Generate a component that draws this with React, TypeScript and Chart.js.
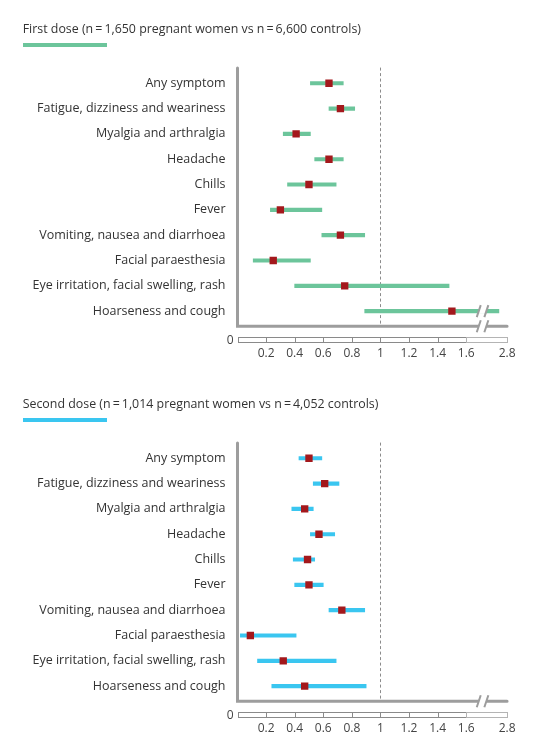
import React, { useEffect, useRef } from "react";
import { Chart, registerables } from "chart.js";

Chart.register(...registerables);

const CATEGORIES = [
  "Any symptom",
  "Fatigue, dizziness and weariness",
  "Myalgia and arthralgia",
  "Headache",
  "Chills",
  "Fever",
  "Vomiting, nausea and diarrhoea",
  "Facial paraesthesia",
  "Eye irritation, facial swelling, rash",
  "Hoarseness and cough",
];

const FIRST_ESTIMATE = [0.64, 0.72, 0.41, 0.64, 0.5, 0.3, 0.72, 0.25, 0.75, 1.5];
const FIRST_LOWER = [0.51, 0.64, 0.32, 0.54, 0.35, 0.23, 0.59, 0.11, 0.4, 0.89];
const FIRST_UPPER = [0.74, 0.82, 0.51, 0.74, 0.69, 0.59, 0.89, 0.51, 1.48, 2.56];

const SECOND_ESTIMATE = [0.5, 0.61, 0.47, 0.57, 0.49, 0.5, 0.73, 0.09, 0.32, 0.47];
const SECOND_LOWER = [0.43, 0.53, 0.38, 0.51, 0.39, 0.4, 0.64, 0.02, 0.14, 0.24];
const SECOND_UPPER = [0.59, 0.71, 0.53, 0.68, 0.54, 0.6, 0.89, 0.41, 0.69, 0.9];

const X_TICKS = [0.2, 0.4, 0.6, 0.8, 1, 1.2, 1.4, 1.6, 2.8];
const X_TICK_LABELS = ["0.2", "0.4", "0.6", "0.8", "1", "1.2", "1.4", "1.6", "2.8"];
const REFERENCE_VALUE = 1;

const FIRST_TITLE = "First dose (n\u2009=\u20091,650 pregnant women vs n\u2009=\u20096,600 controls)";
const SECOND_TITLE = "Second dose (n\u2009=\u20091,014 pregnant women vs n\u2009=\u20094,052 controls)";

// axis break: linear up to 1.6, compressed beyond
const BREAK_START = 1.6;
const COMPRESS = 0.2382;
const t = (v: number) => (v <= BREAK_START ? v : BREAK_START + (v - BREAK_START) * COMPRESS);
const X_MAX = t(2.8);
const BREAK_DISPLAY = BREAK_START + 0.4 * (X_MAX - BREAK_START);

const FONT = "'Open Sans', 'DejaVu Sans', sans-serif";
const GREEN = "#6cc59b";
const BLUE = "#3ac6f0";
const POINT = "#a3181c";
const AXIS = "#9d9d9d";
const TEXT = "#333333";

function drawBreak(ctx: CanvasRenderingContext2D, bx: number, y: number, half: number) {
  const off = 3.8;
  const sl = 2;
  ctx.save();
  ctx.fillStyle = "#ffffff";
  ctx.beginPath();
  ctx.moveTo(bx - off - sl * (half / 6), y + half);
  ctx.lineTo(bx - off + sl * (half / 6), y - half);
  ctx.lineTo(bx + off + sl * (half / 6), y - half);
  ctx.lineTo(bx + off - sl * (half / 6), y + half);
  ctx.closePath();
  ctx.fill();
  ctx.strokeStyle = AXIS;
  ctx.lineWidth = 2;
  for (const cx of [bx - off, bx + off]) {
    ctx.beginPath();
    ctx.moveTo(cx - sl, y + 6);
    ctx.lineTo(cx + sl, y - 6);
    ctx.stroke();
  }
  ctx.restore();
}

const forestPlugin = {
  id: "forestDecor",
  beforeDatasetsDraw(chart: any) {
    const { ctx, chartArea } = chart;
    const xs = chart.scales.x;
    const top = chartArea.top;
    const bottom = chartArea.bottom;
    const left = chartArea.left;
    const right = chartArea.right;
    ctx.save();
    // reference dashed line
    const rx = Math.round(xs.getPixelForValue(REFERENCE_VALUE)) + 0.5;
    ctx.strokeStyle = "#8c8c8c";
    ctx.lineWidth = 1;
    ctx.setLineDash([3, 2.5]);
    ctx.beginPath();
    ctx.moveTo(rx, top - 3);
    ctx.lineTo(rx, bottom + 3);
    ctx.stroke();
    ctx.setLineDash([]);
    // axes
    ctx.strokeStyle = AXIS;
    ctx.lineWidth = 3;
    ctx.lineCap = "round";
    ctx.lineJoin = "miter";
    ctx.beginPath();
    ctx.moveTo(left, top - 2.5);
    ctx.lineTo(left, bottom + 2.5);
    ctx.lineTo(right, bottom + 2.5);
    ctx.stroke();
    ctx.restore();
  },
  afterDatasetsDraw(chart: any) {
    const { ctx, chartArea } = chart;
    const xs = chart.scales.x;
    const ys = chart.scales.y;
    const bottom = chartArea.bottom;
    const bx = xs.getPixelForValue(BREAK_DISPLAY);
    // break on axis
    drawBreak(ctx, bx, bottom + 2.5, 2.5);
    // break on intervals crossing the break
    const upper: number[] = chart.options.plugins.forestDecor.upper;
    upper.forEach((u: number, i: number) => {
      if (t(u) > BREAK_DISPLAY) {
        drawBreak(ctx, bx, ys.getPixelForValue(i), 2.5);
      }
    });
    // ruler
    const rTop = bottom + 13.5;
    const rH = 5;
    const bounds = [0, ...X_TICKS];
    ctx.save();
    ctx.lineWidth = 1;
    for (let i = 0; i < bounds.length - 1; i++) {
      const x0 = xs.getPixelForValue(t(bounds[i]));
      const x1 = xs.getPixelForValue(t(bounds[i + 1]));
      ctx.strokeStyle = bounds[i] >= BREAK_START ? "#b4b4b4" : "#8a8a8a";
      ctx.strokeRect(Math.round(x0) + 0.5, Math.round(rTop) + 0.5, Math.round(x1) - Math.round(x0), rH);
    }
    // zero label
    ctx.fillStyle = "#444444";
    ctx.font = `12px ${FONT}`;
    ctx.textAlign = "right";
    ctx.textBaseline = "middle";
    ctx.fillText("0", xs.getPixelForValue(0) - 4, rTop + rH / 2 + 0.5);
    ctx.restore();
  },
};

function ForestChart({ estimate, lower, upper, color }: { estimate: number[]; lower: number[]; upper: number[]; color: string }) {
  const ref = useRef<HTMLCanvasElement | null>(null);
  useEffect(() => {
    if (!ref.current) return;
    const chart = new Chart(ref.current, {
      type: "bar",
      data: {
        labels: CATEGORIES,
        datasets: [
          {
            type: "line",
            data: estimate.map((v, i) => ({ x: t(v), y: CATEGORIES[i] })),
            showLine: false,
            pointStyle: "rect",
            pointRadius: 5.2,
            pointBackgroundColor: POINT,
            pointBorderWidth: 0,
            order: 1,
          } as any,
          {
            type: "bar",
            data: lower.map((l, i) => [t(l), t(upper[i])]),
            backgroundColor: color,
            barThickness: 3.5,
            borderSkipped: false,
            grouped: false,
            order: 2,
          } as any,
        ],
      },
      options: {
        indexAxis: "y",
        animation: false,
        responsive: false,
        events: [],
        layout: { padding: { top: 70.6, right: 28, bottom: 0, left: 0 } },
        plugins: {
          legend: { display: false },
          tooltip: { enabled: false },
          forestDecor: { upper },
        } as any,
        scales: {
          y: {
            type: "category",
            position: "left",
            grid: { display: false, drawTicks: false },
            border: { display: false },
            ticks: { color: TEXT, font: { family: FONT, size: 12.5 }, padding: 12, autoSkip: false },
            afterFit: (s: any) => {
              s.width = 237.5;
            },
          },
          x: {
            type: "linear",
            min: 0,
            max: X_MAX,
            grid: { display: false, drawTicks: false },
            border: { display: false },
            afterBuildTicks: (s: any) => {
              s.ticks = X_TICKS.map((v) => ({ value: t(v) }));
            },
            ticks: {
              color: "#444444",
              font: { family: FONT, size: 12 },
              padding: 22.5,
              maxRotation: 0,
              autoSkip: false,
              callback: (_v: any, i: number) => X_TICK_LABELS[i],
            },
            afterFit: (s: any) => {
              s.height = 51.2;
            },
          },
        },
      },
      plugins: [forestPlugin],
    });
    return () => chart.destroy();
  }, []);
  return <canvas ref={ref} width={538} height={375} style={{ display: "block", width: 538, height: 375 }} />;
}

function Panel({ top, title, color, estimate, lower, upper }: any) {
  return (
    <div style={{ position: "absolute", left: 0, top, width: 538, height: 375 }}>
      <ForestChart estimate={estimate} lower={lower} upper={upper} color={color} />
      <div
        style={{
          position: "absolute",
          left: 22.7,
          top: 29 - 10,
          height: 20,
          lineHeight: "20px",
          fontFamily: FONT,
          fontSize: 12.4,
          color: TEXT,
          whiteSpace: "nowrap",
        }}
      >
        {title}
      </div>
      <div style={{ position: "absolute", left: 22.7, top: 42.7, width: 84.3, height: 4.6, background: color }} />
    </div>
  );
}

export default function App() {
  return (
    <div style={{ position: "absolute", left: 0, top: 0, width: 538, height: 746, background: "#fff" }}>
      <Panel top={0} title={FIRST_TITLE} color={GREEN} estimate={FIRST_ESTIMATE} lower={FIRST_LOWER} upper={FIRST_UPPER} />
      <Panel top={375.2} title={SECOND_TITLE} color={BLUE} estimate={SECOND_ESTIMATE} lower={SECOND_LOWER} upper={SECOND_UPPER} />
    </div>
  );
}
